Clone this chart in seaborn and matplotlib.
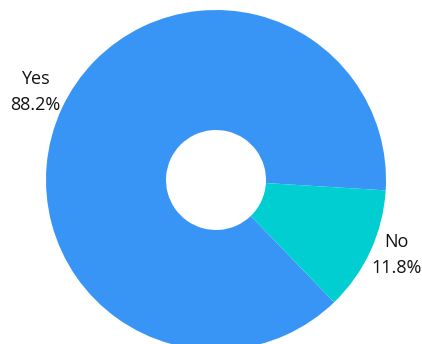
import matplotlib
matplotlib.use("Agg")
import matplotlib.pyplot as plt
import seaborn as sns

categories = ["Yes", "No"]
values = [88.2, 11.8]
colors = ["#3895F6", "#00CED1"]

sns.set_theme(style="white")
plt.rcParams['font.family'] = ['Open Sans', 'DejaVu Sans']

fig = plt.figure(figsize=(4.22, 3.44), dpi=100)
ax = fig.add_axes([0, 0, 1, 1])

labels = [f"{c}\n{v:.1f}%" for c, v in zip(categories, values)]
wedges, texts = ax.pie(values, labels=labels, colors=colors, startangle=-3.5,
                       counterclock=True, center=(216, 164), radius=170,
                       labeldistance=1.17, frame=True,
                       wedgeprops=dict(width=120, linewidth=0),
                       textprops=dict(fontsize=13, color='#111111',
                                      linespacing=1.55))
for t in texts:
    t.set_horizontalalignment('center')
    t.set_verticalalignment('center')
    t.set_multialignment('center')
texts[0].set_y(texts[0].get_position()[1] + 5)
texts[1].set_y(texts[1].get_position()[1] + 8)
ax.set_xlim(0, 422)
ax.set_ylim(0, 344)
ax.set_aspect('equal')
ax.axis('off')

fig.savefig("out.png", dpi=100)
